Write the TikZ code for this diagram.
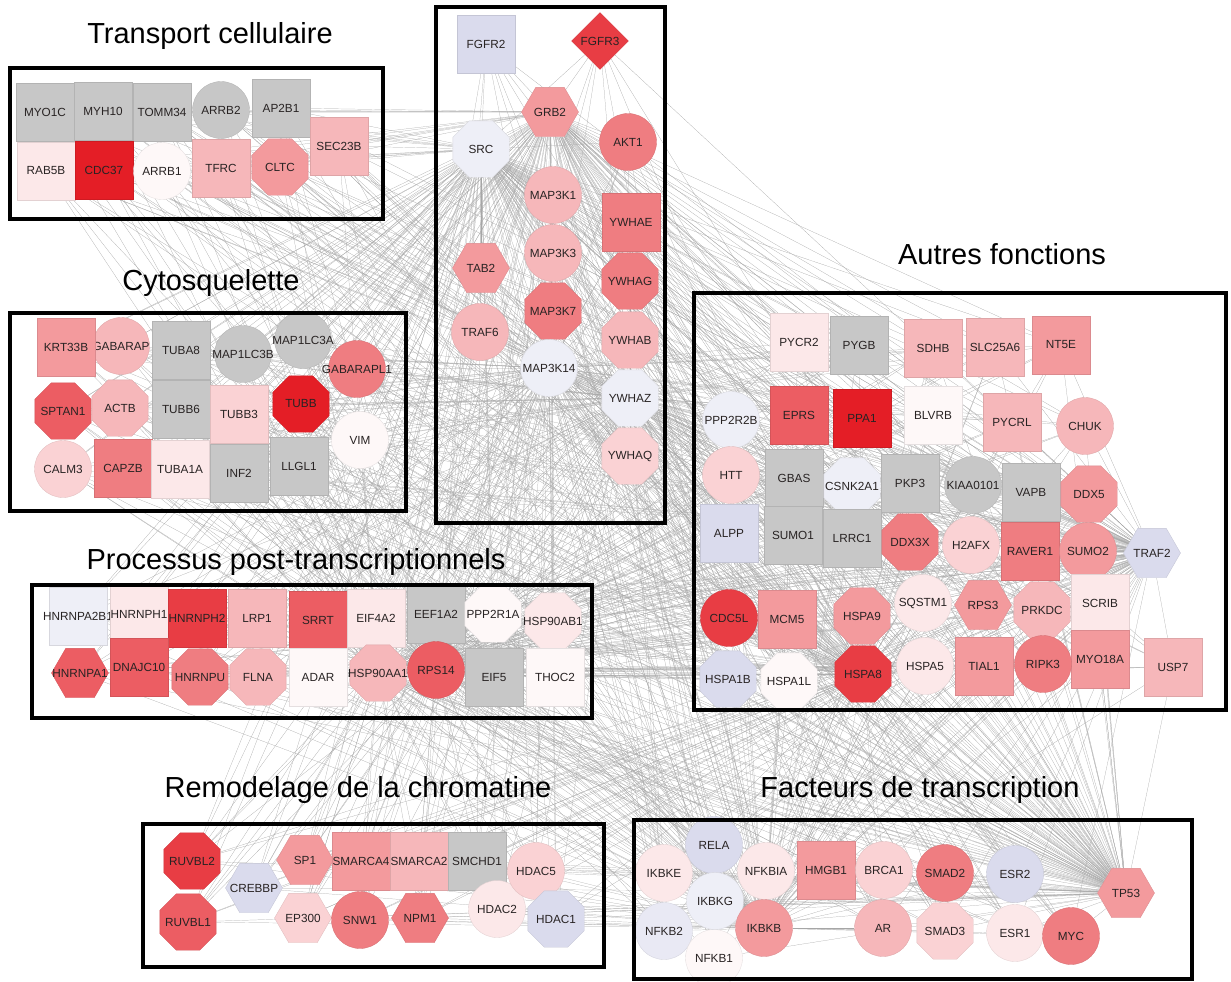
\documentclass[tikz,border=0pt]{standalone}
\usepackage{fontspec}
\setmainfont{Liberation Sans}
\usetikzlibrary{shapes.geometric,backgrounds}
\definecolor{nred}{RGB}{228,30,38}
\definecolor{ngray}{RGB}{199,199,199}
\definecolor{nlav}{RGB}{218,219,237}
\definecolor{genetext}{RGB}{40,35,35}
\colorlet{r0}{nred!3}
\colorlet{r1}{nred!10}
\colorlet{r2}{nred!20}
\colorlet{r3}{nred!32}
\colorlet{r4}{nred!45}
\colorlet{r5}{nred!58}
\colorlet{r6}{nred!72}
\colorlet{r7}{nred!86}
\colorlet{r8}{nred}
\colorlet{lav}{nlav}
\colorlet{lavm}{nlav!60}
\colorlet{lavw}{nlav!45}
\newcommand{\genefont}{\fontsize{6.7}{7}\selectfont}
\newcommand{\titlefont}{\fontsize{16.5}{19}\selectfont}
\tikzset{
  gene/.style={inner sep=0pt, font=\genefont, text=genetext, fill=#1,
    draw=#1!90!black, line width=0.2pt,
    execute at begin node={\hbox to 0pt\bgroup\hss},
    execute at end node={\hss\egroup}},
  sq/.style={gene=#1, rectangle, minimum size=1.16cm},
  ci/.style={gene=#1, circle, minimum size=1.14cm},
  oc/.style={gene=#1, regular polygon, regular polygon sides=8, minimum size=1.22cm},
  hx/.style={gene=#1, regular polygon, regular polygon sides=6, minimum size=1.14cm},
  dm/.style={gene=#1, diamond, minimum width=1.14cm, minimum height=1.14cm},
  groupbox/.style={draw=black, line width=2.3pt},
  grouptitle/.style={font=\titlefont, text=black, inner sep=0pt},
  meshline/.style={draw=black!35, line width=0.12pt}
}
\begin{document}
\begin{tikzpicture}[x=0.02cm, y=-0.02cm]
\useasboundingbox (0,0) rectangle (1231,981);

% Transport cellulaire
\node[grouptitle] (tTransport) at (210,36) {Transport cellulaire};
\node[sq=ngray] (MYO1C) at (45,112) {MYO1C};
\node[sq=ngray] (MYH10) at (103,111) {MYH10};
\node[sq=ngray] (TOMM34) at (162,112) {TOMM34};
\node[ci=ngray] (ARRB2) at (221,110) {ARRB2};
\node[sq=ngray] (AP2B1) at (281,108) {AP2B1};
\node[sq=r3] (SEC23B) at (339,146) {SEC23B};
\node[sq=r1] (RAB5B) at (46,171) {RAB5B};
\node[sq=r8] (CDC37) at (104,170) {CDC37};
\node[ci=r0] (ARRB1) at (162,171) {ARRB1};
\node[sq=r3] (TFRC) at (221,168) {TFRC};
\node[oc=r4] (CLTC) at (280,167) {CLTC};
\draw[groupbox] (10,68) rectangle (383,219);

% Cytosquelette
\node[grouptitle] (tCyto) at (211,283) {Cytosquelette};
\node[ci=r3] (GABARAP) at (121,346) {GABARAP};
\node[sq=r4] (KRT33B) at (66,347) {KRT33B};
\node[sq=ngray] (TUBA8) at (181,350) {TUBA8};
\node[ci=ngray] (MAP1LC3A) at (303,340) {MAP1LC3A};
\node[ci=ngray] (MAP1LC3B) at (243,354) {MAP1LC3B};
\node[ci=r5] (GABARAPL1) at (357,369) {GABARAPL1};
\node[oc=r6] (SPTAN1) at (63,411) {SPTAN1};
\node[oc=r3] (ACTB) at (120,408) {ACTB};
\node[sq=ngray] (TUBB6) at (181,409) {TUBB6};
\node[sq=r2] (TUBB3) at (239,414) {TUBB3};
\node[oc=r8] (TUBB) at (301,404) {TUBB};
\node[ci=r0] (VIM) at (360,440) {VIM};
\node[ci=r2] (CALM3) at (63,469) {CALM3};
\node[sq=r5] (CAPZB) at (123,468) {CAPZB};
\node[sq=r1] (TUBA1A) at (180,469) {TUBA1A};
\node[sq=ngray] (INF2) at (239,473) {INF2};
\node[sq=ngray] (LLGL1) at (299,466) {LLGL1};
\draw[groupbox] (10,313) rectangle (406,511);

% central column
\node[sq=lav] (FGFR2) at (486,44) {FGFR2};
\node[dm=r7] (FGFR3) at (600,41) {FGFR3};
\node[hx=r4] (GRB2) at (550,112) {GRB2};
\node[oc=lavw] (SRC) at (481,149) {SRC};
\node[ci=r5] (AKT1) at (628,142) {AKT1};
\node[ci=r3] (MAP3K1) at (553,195) {MAP3K1};
\node[sq=r5] (YWHAE) at (631,222) {YWHAE};
\node[ci=r3] (MAP3K3) at (553,253) {MAP3K3};
\node[hx=r4] (TAB2) at (481,268) {TAB2};
\node[oc=r5] (YWHAG) at (630,281) {YWHAG};
\node[oc=r5] (MAP3K7) at (553,311) {MAP3K7};
\node[ci=r3] (TRAF6) at (480,332) {TRAF6};
\node[oc=r3] (YWHAB) at (630,340) {YWHAB};
\node[ci=lavw] (MAP3K14) at (549,368) {MAP3K14};
\node[oc=lavw] (YWHAZ) at (630,398) {YWHAZ};
\node[oc=r2] (YWHAQ) at (630,456) {YWHAQ};
\draw[groupbox] (436,7) rectangle (665,523);

% Autres fonctions
\node[grouptitle] (tAutres) at (1002,254) {Autres fonctions};
\node[sq=r1] (PYCR2) at (799,342) {PYCR2};
\node[sq=ngray] (PYGB) at (859,345) {PYGB};
\node[sq=r3] (SDHB) at (933,348) {SDHB};
\node[sq=r3] (SLC25A6) at (995,347) {SLC25A6};
\node[sq=r4] (NT5E) at (1061,345) {NT5E};
\node[ci=lavw] (PPP2R2B) at (731,420) {PPP2R2B};
\node[sq=r6] (EPRS) at (799,415) {EPRS};
\node[sq=r8] (PPA1) at (862,418) {PPA1};
\node[sq=r0] (BLVRB) at (933,415) {BLVRB};
\node[sq=r3] (PYCRL) at (1012,422) {PYCRL};
\node[ci=r3] (CHUK) at (1085,426) {CHUK};
\node[ci=r2] (HTT) at (731,475) {HTT};
\node[sq=ngray] (GBAS) at (794,478) {GBAS};
\node[oc=lavw] (CSNK2A1) at (852,486) {CSNK2A1};
\node[sq=ngray] (PKP3) at (910,483) {PKP3};
\node[ci=ngray] (KIAA0101) at (973,485) {KIAA0101};
\node[sq=ngray] (VAPB) at (1031,492) {VAPB};
\node[oc=r4] (DDX5) at (1089,494) {DDX5};
\node[sq=lav] (ALPP) at (729,533) {ALPP};
\node[sq=ngray] (SUMO1) at (793,535) {SUMO1};
\node[sq=ngray] (LRRC1) at (852,538) {LRRC1};
\node[oc=r5] (DDX3X) at (910,542) {DDX3X};
\node[ci=r2] (H2AFX) at (971,545) {H2AFX};
\node[sq=r5] (RAVER1) at (1030,551) {RAVER1};
\node[ci=r4] (SUMO2) at (1088,551) {SUMO2};
\node[hx=lav] (TRAF2) at (1152,553) {TRAF2};
\node[sq=r1] (SCRIB) at (1100,603) {SCRIB};
\node[ci=r1] (SQSTM1) at (923,603) {SQSTM1};
\node[hx=r4] (RPS3) at (983,605) {RPS3};
\node[oc=r3] (PRKDC) at (1042,610) {PRKDC};
\node[ci=r7] (CDC5L) at (729,618) {CDC5L};
\node[sq=r4] (MCM5) at (787,619) {MCM5};
\node[oc=r4] (HSPA9) at (862,616) {HSPA9};
\node[oc=lav] (HSPA1B) at (728,679) {HSPA1B};
\node[oc=r0] (HSPA1L) at (789,681) {HSPA1L};
\node[ci=r1] (HSPA5) at (925,666) {HSPA5};
\node[oc=r7] (HSPA8) at (863,674) {HSPA8};
\node[sq=r4] (TIAL1) at (984,666) {TIAL1};
\node[sq=r4] (MYO18A) at (1100,659) {MYO18A};
\node[ci=r5] (RIPK3) at (1043,664) {RIPK3};
\node[sq=r3] (USP7) at (1173,667) {USP7};
\draw[groupbox] (694,293) rectangle (1226,710);

% Processus post-transcriptionnels
\node[grouptitle] (tProcessus) at (296,562) {Processus post-transcriptionnels};
\node[sq=lavw] (HNRNPA2B1) at (78,616) {HNRNPA2B1};
\node[sq=r1] (HNRNPH1) at (139,614) {HNRNPH1};
\node[sq=r7] (HNRNPH2) at (197,618) {HNRNPH2};
\node[sq=r3] (LRP1) at (257,618) {LRP1};
\node[sq=r6] (SRRT) at (318,620) {SRRT};
\node[sq=r1] (EIF4A2) at (376,618) {EIF4A2};
\node[sq=ngray] (EEF1A2) at (436,614) {EEF1A2};
\node[oc=r0] (PPP2R1A) at (493,614) {PPP2R1A};
\node[oc=r1] (HSP90AB1) at (553,621) {HSP90AB1};
\node[hx=r6] (HNRNPA1) at (80,673) {HNRNPA1};
\node[sq=r6] (DNAJC10) at (139,667) {DNAJC10};
\node[oc=r5] (HNRNPU) at (200,677) {HNRNPU};
\node[oc=r3] (FLNA) at (258,677) {FLNA};
\node[sq=r0] (ADAR) at (318,677) {ADAR};
\node[oc=r3] (HSP90AA1) at (378,673) {HSP90AA1};
\node[ci=r6] (RPS14) at (436,670) {RPS14};
\node[sq=ngray] (EIF5) at (494,677) {EIF5};
\node[sq=r0] (THOC2) at (555,677) {THOC2};
\draw[groupbox] (32,585) rectangle (592,718);

% Remodelage de la chromatine
\node[grouptitle] (tRemodelage) at (358,790) {Remodelage de la chromatine};
\node[oc=r7] (RUVBL2) at (192,861) {RUVBL2};
\node[oc=r6] (RUVBL1) at (188,922) {RUVBL1};
\node[hx=lav] (CREBBP) at (254,888) {CREBBP};
\node[hx=r4] (SP1) at (305,860) {SP1};
\node[hx=r2] (EP300) at (303,918) {EP300};
\node[sq=r4] (SMARCA4) at (361,861) {SMARCA4};
\node[sq=r3] (SMARCA2) at (419,861) {SMARCA2};
\node[sq=ngray] (SMCHD1) at (477,861) {SMCHD1};
\node[ci=r5] (SNW1) at (360,920) {SNW1};
\node[hx=r5] (NPM1) at (420,918) {NPM1};
\node[ci=r1] (HDAC2) at (497,909) {HDAC2};
\node[ci=r2] (HDAC5) at (536,871) {HDAC5};
\node[oc=lav] (HDAC1) at (556,919) {HDAC1};
\draw[groupbox] (143,824) rectangle (604,967);

% Facteurs de transcription
\node[grouptitle] (tFacteurs) at (920,790) {Facteurs de transcription};
\node[ci=lav] (RELA) at (714,845) {RELA};
\node[ci=r1] (IKBKE) at (664,873) {IKBKE};
\node[ci=r1] (NFKBIA) at (766,871) {NFKBIA};
\node[sq=r4] (HMGB1) at (826,870) {HMGB1};
\node[ci=r2] (BRCA1) at (884,870) {BRCA1};
\node[ci=r5] (SMAD2) at (945,873) {SMAD2};
\node[ci=lav] (ESR2) at (1015,874) {ESR2};
\node[hx=r4] (TP53) at (1126,893) {TP53};
\node[ci=lavm] (NFKB2) at (664,931) {NFKB2};
\node[ci=r0] (NFKB1) at (714,958) {NFKB1};
\node[ci=lavw] (IKBKG) at (715,901) {IKBKG};
\node[ci=r4] (IKBKB) at (764,928) {IKBKB};
\node[ci=r3] (AR) at (883,928) {AR};
\node[oc=r2] (SMAD3) at (945,931) {SMAD3};
\node[ci=r1] (ESR1) at (1015,933) {ESR1};
\node[ci=r5] (MYC) at (1071,936) {MYC};
\draw[groupbox] (634,820) rectangle (1192,979);

% interaction mesh
\begin{scope}[on background layer]
\foreach \src in {MYO1C,MYH10,TOMM34,ARRB2,AP2B1,SEC23B,RAB5B,CDC37,ARRB1,TFRC,CLTC,
  GABARAP,KRT33B,TUBA8,MAP1LC3A,MAP1LC3B,GABARAPL1,SPTAN1,ACTB,TUBB6,TUBB3,TUBB,VIM,CALM3,CAPZB,TUBA1A,INF2,LLGL1,
  FGFR2,FGFR3,AKT1,MAP3K1,YWHAE,MAP3K3,TAB2,YWHAG,MAP3K7,TRAF6,YWHAB,YWHAQ,
  PYCR2,PYGB,SDHB,SLC25A6,NT5E,PPP2R2B,EPRS,PPA1,BLVRB,PYCRL,CHUK,HTT,GBAS,CSNK2A1,PKP3,KIAA0101,VAPB,DDX5,
  ALPP,SUMO1,LRRC1,DDX3X,H2AFX,RAVER1,SUMO2,SCRIB,SQSTM1,RPS3,PRKDC,CDC5L,MCM5,HSPA9,HSPA1B,HSPA1L,HSPA5,TIAL1,MYO18A,RIPK3,USP7,
  HNRNPA2B1,HNRNPH1,HNRNPH2,LRP1,SRRT,EIF4A2,EEF1A2,PPP2R1A,HSP90AB1,HNRNPA1,DNAJC10,HNRNPU,FLNA,ADAR,EIF5,THOC2,
  RUVBL2,RUVBL1,CREBBP,SP1,EP300,SMARCA4,SMARCA2,SMCHD1,SNW1,NPM1,HDAC2,HDAC5,HDAC1,
  RELA,IKBKE,NFKBIA,HMGB1,BRCA1,SMAD2,ESR2,NFKB2,NFKB1,IKBKG,AR,SMAD3,ESR1,MYC} {
  \foreach \hub in {TP53,GRB2,HSPA8,YWHAZ,HSP90AA1,SRC,TRAF2,MAP3K14,RPS14,IKBKB}
    \draw[meshline] (\src) -- (\hub);
}
\end{scope}
\end{tikzpicture}
\end{document}
